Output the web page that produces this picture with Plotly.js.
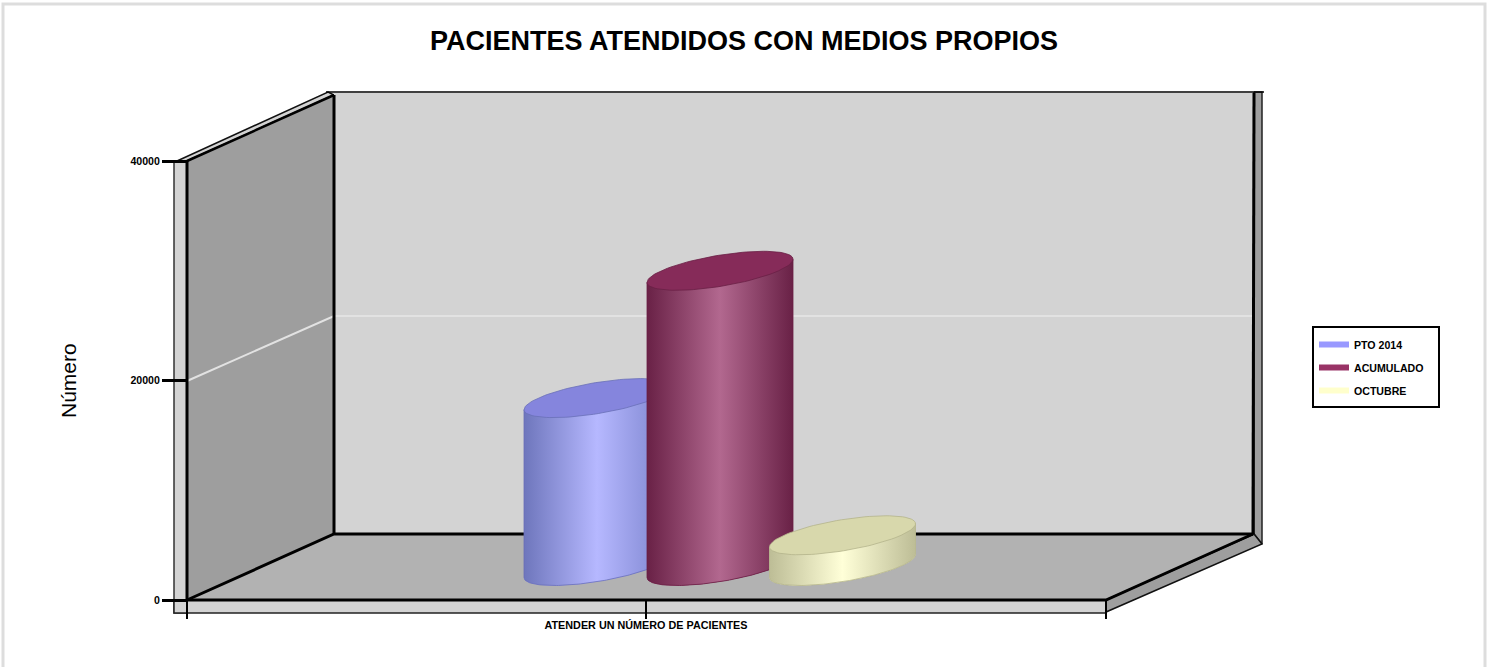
<!DOCTYPE html>
<html>
<head>
<meta charset="utf-8">
<script src="https://cdn.plot.ly/plotly-3.0.1.min.js"></script>
<style>html,body{margin:0;padding:0;background:#fff;overflow:hidden}#chart{width:1489px;height:667px}</style>
</head>
<body>
<div id="chart"></div>
<script>
// ---- data ----
const chartTitle = 'PACIENTES ATENDIDOS CON MEDIOS PROPIOS';
const yAxisTitle = 'Número';
const category = 'ATENDER UN NÚMERO DE PACIENTES';
const seriesNames = ['PTO 2014', 'ACUMULADO', 'OCTUBRE'];
const seriesValues = [15300, 26900, 2800];
const yTicks = [0, 20000, 40000];

// ---- styles ----
const swatchColors = ['#9999FF', '#993366', '#FFFFCC'];
const topColors = ['#8585DD', '#862B59', '#D8D8AC'];
const edgeColors = [['#6E76BC', '#7A82CC'], ['#692146', '#692146'], ['#BDBD96', '#BDBD96']];
const midColors = ['#B6B8FF', '#B2688F', '#FFFFD8'];
const rimColors = ['#6A70B8', '#6A1F45', '#B4B48C'];

// ---- projection geometry of the fake-3D box ----
const W = 1489, H = 667;
const x0 = 187, x1 = 1106, baseY = 600, topY = 161, maxV = 40000;
const depthX = 147, depthY = 66;
const unit = maxV / (baseY - topY);               // value per screen pixel
const yOf = px => (baseY - px) * unit;            // screen row -> y value
const PX = (x, d) => x + depthX * d;
const PY = (v, d) => v + depthY * d * unit;

const traces = [];
function poly(pts, fill, lineColor, lineWidth) {
  const path = fill ? pts.concat([pts[0]]) : pts;
  traces.push({
    type: 'scatter', mode: lineColor ? 'lines' : 'none',
    x: path.map(p => p[0]), y: path.map(p => p[1]),
    fill: fill ? 'toself' : 'none', fillcolor: fill || undefined,
    line: lineColor ? {color: lineColor, width: lineWidth} : undefined,
    showlegend: false, hoverinfo: 'skip'
  });
}
const pt = (x, v, d) => [PX(x, d), PY(v, d)];
const raw = (x, py) => [x, yOf(py)];

// outer slabs
poly([raw(174,161), raw(187,161), raw(187,613), raw(174,613)], '#D3D3D3', '#333333', 1.5);
poly([raw(174,600), raw(x1,600), raw(x1,613), raw(174,613)], '#D3D3D3', '#222222', 1.5);
poly([raw(177,161), raw(328,92), raw(334,95), raw(187,161)], '#D3D3D3', '#111111', 1.5);
// back wall, left wall, floor
poly([raw(334,93), raw(1254,93), raw(1254,534), raw(334,534)], '#D3D3D3');
poly([pt(x0,0,0), pt(x0,maxV,0), pt(x0,maxV,1), pt(x0,0,1)], '#9E9E9E');
poly([pt(x0,0,0), pt(x1,0,0), pt(x1,0,1), pt(x0,0,1)], '#B2B2B2');
// right slabs
poly([raw(1254,92), raw(1262,92), raw(1262,544), raw(1254,534)], '#9E9E9E', '#222222', 1.5);
poly([raw(x1,600), raw(1254,534), raw(1262,544), raw(x1,612)], '#9E9E9E', '#111111', 1.5);
// grid at 20000
poly([raw(x0,381), raw(334,316), raw(1254,316)], null, '#E2E2E2', 2);
// box edges
poly([raw(326,92), raw(1264,92)], null, '#000000', 1.5);
poly([pt(x0,0,0), pt(x0,0,1), pt(x1,0,1)], null, '#000000', 3);
poly([pt(x0,0,0), pt(x1,0,0), pt(x1,0,1)], null, '#000000', 3);
poly([pt(x0,0,1), raw(334,95)], null, '#000000', 3);
poly([pt(x0,maxV,0), raw(334,95)], null, '#000000', 2.5);
poly([pt(x1,0,1), raw(1254,93)], null, '#000000', 3);
poly([pt(x0,0,0), pt(x0,maxV,0)], null, '#000000', 3);

// ---- cylinders ----
const centers = [597, 720, 842.5];   // horizontal slots of the three series in the single category
const halfW = 73, ry = 19.5, rx = ry * depthX / depthY, wx = Math.sqrt(halfW*halfW - rx*rx);
const midDepth = 0.515;
const N = 96;
function ellipsePts(cx, v, from, to) {
  const out = [], base = PY(v, midDepth);
  for (let i = 0; i <= N; i++) {
    const t = from + (to - from) * i / N;
    out.push([cx + wx * Math.cos(t) + rx * Math.sin(t), base + ry * Math.sin(t) * unit]);
  }
  return out;
}
const tEdge = Math.atan2(rx, wx);
seriesValues.forEach((val, i) => {
  const cx = centers[i];
  // silhouette: from the right extreme, around the lower side of the base, up to the top
  const lower = ellipsePts(cx, 0, tEdge - Math.PI * 2, tEdge - Math.PI * 3);
  const right = lower[0], left = lower[N];
  const silhouette = lower.concat([[left[0], PY(val, midDepth) - ry * Math.sin(tEdge) * unit],
                                   [right[0], PY(val, midDepth) + ry * Math.sin(tEdge) * unit]]);
  silhouette.push(silhouette[0]);
  const xs = silhouette.map(p => p[0]), ys = silhouette.map(p => p[1]);
  // solid series shape (carries the legend entry)
  traces.push({type:'scatter', mode:'none', name: seriesNames[i], x: xs, y: ys, fill:'toself',
    fillcolor: swatchColors[i], showlegend:true, hoverinfo:'skip', legendgroup:'g'+i});
  // shaded body
  traces.push({type:'scatter', mode:'lines', x: xs, y: ys, fill:'toself', showlegend:false, hoverinfo:'skip',
    line:{color: rimColors[i], width:0.8},
    fillgradient:{type:'horizontal', colorscale:[[0,edgeColors[i][0]],[0.5,midColors[i]],[1,edgeColors[i][1]]]}});
  // top cap
  const cap = ellipsePts(cx, val, 0, Math.PI * 2);
  traces.push({type:'scatter', mode:'lines', x: cap.map(p=>p[0]), y: cap.map(p=>p[1]), fill:'toself',
    fillcolor: topColors[i], line:{color: rimColors[i], width:0.8}, showlegend:false, hoverinfo:'skip'});
});

const font = 'Liberation Sans, Arial, sans-serif';
const layout = {
  width: W, height: H,
  margin: {l:0, r:0, t:0, b:0, pad:0},
  paper_bgcolor: '#FFFFFF', plot_bgcolor: '#FFFFFF',
  title: {text: chartTitle, x: 744/W, xref:'paper', xanchor:'center', y: 1-41/H, yref:'paper', yanchor:'middle',
    font:{family:font, size:27, color:'#000000', weight:700}},
  xaxis: {
    range:[0, W], anchor:'free', position:(H-baseY)/H, showgrid:false, zeroline:false, showline:false,
    tickmode:'array', tickvals:[x0, 646, x1], ticktext:['', category, ''],
    ticks:'outside', ticklen:18, tickwidth:2, tickcolor:'#000000', ticklabelstandoff:-3,
    tickfont:{family:font, size:10.8, color:'#000000', weight:700}, fixedrange:true
  },
  yaxis: {
    range:[yOf(H), yOf(0)], anchor:'free', position:x0/W, showgrid:false, zeroline:false, showline:false,
    tickmode:'array', tickvals:yTicks, ticktext:yTicks.map(String),
    ticks:'outside', ticklen:25, tickwidth:2.5, tickcolor:'#000000',
    tickfont:{family:font, size:10.6, color:'#000000', weight:700}, fixedrange:true
  },
  showlegend: true,
  legend: {x:1314/W, xanchor:'left', y:1-330/H, yanchor:'top', bgcolor:'rgba(0,0,0,0)', borderwidth:0,
    traceorder:'grouped', tracegroupgap:4, itemclick:false, itemdoubleclick:false,
    font:{family:font, size:10.6, color:'#000000', weight:700}},
  annotations: [{text: yAxisTitle, xref:'x', yref:'paper', x:68, y:1-381/H, showarrow:false, textangle:-90,
    xanchor:'center', yanchor:'middle', font:{family:font, size:21, color:'#000000'}}],
  shapes: [
    {type:'rect', xref:'x', yref:'paper', x0:3, x1:1485, y0:-0.02, y1:1-4/H, line:{color:'#DDDDDD', width:3}, fillcolor:'rgba(0,0,0,0)', layer:'below'},
    {type:'rect', xref:'x', yref:'paper', x0:1313, x1:1439, y0:1-407/H, y1:1-327/H, line:{color:'#000000', width:2}, fillcolor:'#FFFFFF', layer:'below'}
  ]
};
Plotly.newPlot('chart', traces, layout, {displayModeBar:false, responsive:false});
</script>
</body>
</html>
